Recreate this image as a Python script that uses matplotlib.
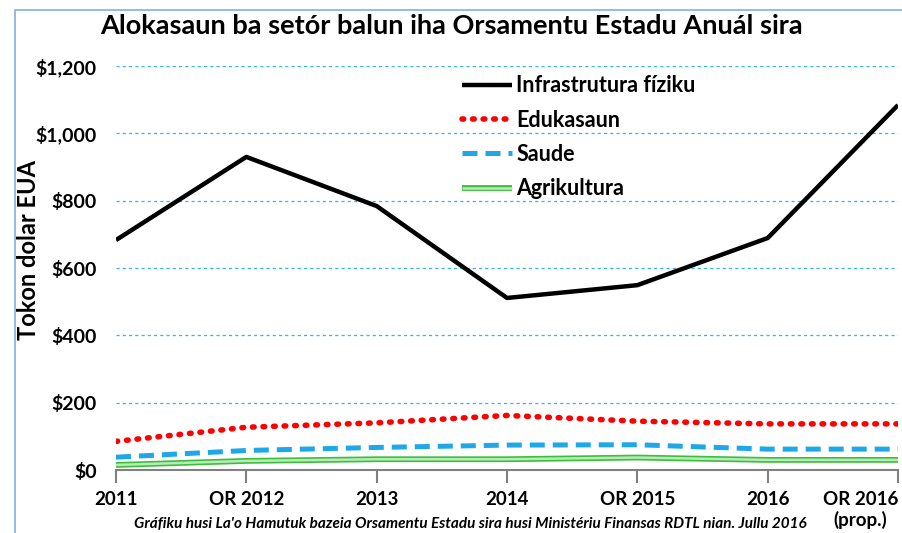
import matplotlib
matplotlib.use("Agg")
import matplotlib.pyplot as plt
from matplotlib.patches import Rectangle
from matplotlib.legend_handler import HandlerTuple

categories = ["2011", "OR 2012", "2013", "2014", "OR 2015", "2016", "OR 2016\n(prop.)"]
infra = [683, 930, 784, 511, 549, 689, 1084]
edukasaun = [85, 127, 140, 162, 145, 137, 137]
saude = [38, 58, 67, 74, 75, 62, 62]
agrikultura = [15, 27, 32, 32, 37, 30, 30]
yticks = [0, 200, 400, 600, 800, 1000, 1200]
ytick_labels = ["$0", "$200", "$400", "$600", "$800", "$1,000", "$1,200"]

plt.rcParams['font.family'] = ['Lato', 'DejaVu Sans']

fig = plt.figure(figsize=(9.03, 5.33), dpi=100)
fig.patches.append(Rectangle((15/903, -0.1), 1.2, 1 - 10/533 + 0.1, transform=fig.transFigure,
                             fill=False, edgecolor='#7FB2E5', linewidth=1.2))
ax = fig.add_axes([116/903, 1 - 470/533, (898-116)/903, (470-66)/533])
x = list(range(len(categories)))

ax.plot(x, infra, color='black', lw=3.2, label='Infrastrutura fíziku', solid_capstyle='butt')
ax.plot(x, edukasaun, color='#FF0000', lw=4, linestyle=(0, (0.3, 1.6)), dash_capstyle='round',
        label='Edukasaun')
ax.plot(x, saude, color='#1FA8E8', lw=3.6, linestyle=(0, (3, 1.6)), label='Saude')
l1, = ax.plot(x, agrikultura, color='#3DBF3D', lw=4.2, solid_capstyle='butt')
l2, = ax.plot(x, agrikultura, color='#B8EBB8', lw=1.8, solid_capstyle='butt')

handles, labels = ax.get_legend_handles_labels()
handles.append((l1, l2))
labels.append('Agrikultura')
leg = ax.legend(handles, labels, loc='upper left', bbox_to_anchor=(0.418, 1.025), frameon=False,
                handlelength=2.3, handletextpad=0.2, labelspacing=0.62,
                prop={'weight': 'bold', 'size': 15.5},
                handler_map={tuple: HandlerTuple(ndivide=1, pad=0)})

ax.set_ylim(0, 1200)
ax.set_xlim(0, len(categories) - 1)
ax.set_yticks(yticks)
ax.set_yticklabels(ytick_labels, fontsize=14, fontweight='bold')
ax.set_xticks(x)
ax.set_xticklabels(categories, fontsize=13.5, fontweight='bold')
last = ax.get_xticklabels()[-1]
last.set_horizontalalignment('right')
last.set_multialignment('center')
for yv in yticks[1:]:
    ax.axhline(yv, color='#33B5E8', lw=0.9, linestyle=(0, (2.5, 2.5)), zorder=0)
for s in ['left', 'right', 'top']:
    ax.spines[s].set_visible(False)
ax.spines['bottom'].set_color('#808080')
ax.spines['bottom'].set_linewidth(1.5)
ax.tick_params(axis='y', length=0, pad=14)
ax.tick_params(axis='x', length=9, width=1.5, color='#808080', pad=6, direction='out')
ax.set_ylabel('Tokon dolar EUA', fontsize=17, fontweight='bold')
ax.yaxis.set_label_coords(-0.097, 0.545)

fig.text(0.5, 1 - 26/533, 'Alokasaun ba setór balun iha Orsamentu Estadu Anuál sira',
         ha='center', va='center', fontsize=19.5, fontweight='bold')
fig.text(470/903, 1 - 524/533,
         "Gráfiku husi La'o Hamutuk bazeia Orsamentu Estadu sira husi Ministériu Finansas RDTL nian. Jullu 2016",
         ha='center', va='center', fontsize=11, fontweight='bold', style='italic')

fig.savefig('out.png', dpi=100)
